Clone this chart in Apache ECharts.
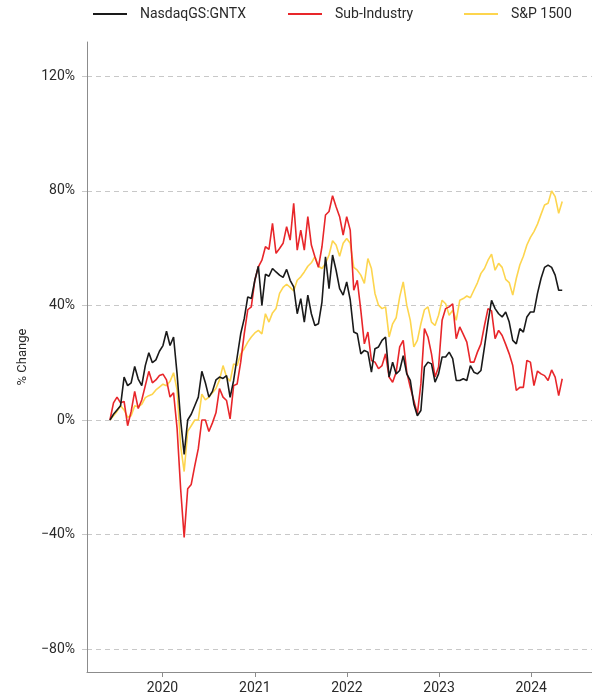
<!DOCTYPE html>
<html>
<head>
<meta charset="utf-8">
<script src="https://cdn.jsdelivr.net/npm/echarts@6/dist/echarts.min.js"></script>
<style>
html,body{margin:0;padding:0;background:#fff;}
#chart{width:592px;height:698px;}
</style>
</head>
<body>
<div id="chart"></div>
<script>
// Bi-weekly observation dates, starting 2019-06-07
const startDate = '2019-06-07';
const stepDays = 14;
const pointCount = 129;

const seriesNames = ['NasdaqGS:GNTX', 'Sub-Industry', 'S&P 1500'];

const gntx = [0,2,3.5,5,15,12,13,18.7,14.3,12,19,23.5,20,21,24,26,31,26,29,16,0,-12,0,2,5,8,17,13,8,10,14,15,14.5,
15.5,7.9,13.8,22,30.1,35.4,43,42.4,48.8,53.7,40,50.9,50.2,52.9,51.7,50.6,49.8,52.6,48.8,46.5,37.1,42.4,34.2,43.6,37.1,33,33.6,41.2,57,45.9,57.6,52.3,45.9,
43.6,48.2,42,30.7,30.1,23.1,24.3,23.7,16.7,24.9,25.5,27.8,29,15,20.2,16.1,17.3,22.5,16.1,13.8,5.6,1.5,3.3,18.5,20.2,19.6,13.2,16.1,22,22,23.7,
21.4,13.8,13.8,14.4,13.8,19,16.7,16.1,17.3,25.5,34.2,41.8,38.9,37.1,36,37.7,34.2,27.8,26.6,31.9,30.7,36,37.7,37.7,44.2,49.4,53.3,54.1,53.3,50.6,45.3,45.3];

const subIndustry = [0,6,8,6,6.5,-2,3,10,4,7,12,17,13,14,15.5,16,14,8,9.5,-3,-24,-41,-24,-22.5,-16,-10,0,0,-4,-1,2.5,11,8,
6.8,0.4,12,12.6,20.2,30.1,38.5,39.5,48.8,53.5,55.8,60.5,59.6,68.7,58.2,59.9,61.7,67.5,62.8,75.7,59.3,66.3,59.3,71,61.1,57,53.3,60.5,71.6,72.8,78.3,74.5,71,
64.6,71,66.3,45.3,48.8,38.3,26.6,30.7,20.8,20.2,17.9,19,23.1,15,13.2,16.7,25.5,27.8,16.7,11.4,6.8,2.1,12.6,31.9,29,23.1,15,18.5,34.8,38.9,39.5,
40.6,28.4,32.5,29.9,27.2,20.2,20.2,23.7,26.6,33,38.9,38.1,28.4,31.3,29.5,26.4,23.1,19,10.3,11.4,11.4,20.8,20.2,12,17.1,16.1,15.5,13.8,17.5,15,8.5,14.4];

const sp1500 = [0,1.5,3,5,3.5,1,1.5,5,4.5,5.5,7.8,8.5,9,10.5,11.5,12.5,12,13.5,16.5,10.5,-9,-18,-4,-2,0,0,9,7,8,9.5,11,14,19,
15,13.5,19.6,19,23.1,24.9,27.2,29,30.4,31.3,30.1,37.1,34.2,37.4,38.9,44.2,46.3,47.4,46.3,45.1,48.8,50,51.7,53.7,54.9,57,53.7,52.9,54.7,57.6,62.6,61.1,57.2,
61.7,63.4,61.7,53.3,52.3,50.6,47.7,56.4,52.9,44.2,40.1,38.9,39.5,29,33.6,35.7,43,48.2,40.1,34.8,25.5,27.8,33.6,38.5,39.5,34.2,33,36.6,41.8,40.6,36.6,
38.3,34.8,41.8,42.4,43.3,42.7,45.3,47.9,51.2,52.9,55.8,57.9,52.3,54.7,53.3,49.1,48,43.6,49.4,54.1,57.2,61.1,63.8,65.8,68.4,71.8,75.1,75.7,80,78,72.2,76.3];

const yTicks = [-80, -40, 0, 40, 80, 120];
const xTickYears = [2020, 2021, 2022, 2023, 2024];
const xMin = '2019-03-08';
const xMax = '2024-08-29';
const yMin = -88;
const yMax = 132;

const colors = ['#1a1a1a', '#e8262a', '#fdd54e'];

const t0 = Date.parse(startDate);
const dates = [];
for (let i = 0; i < pointCount; i++) dates.push(t0 + i * stepDays * 86400000);
const pair = arr => arr.map((v, i) => [dates[i], v]);
const yearTs = xTickYears.map(y => Date.UTC(y, 0, 1));

const chart = echarts.init(document.getElementById('chart'), null, {renderer: 'canvas'});
const font = 'Roboto';
const legendLefts = [93, 288, 464];
const legends = seriesNames.map((n, k) => ({
  top: 7,
  left: legendLefts[k],
  padding: 0,
  itemWidth: 34,
  itemHeight: 2,
  icon: 'rect',
  textStyle: {fontFamily: font, fontSize: 14, color: '#2a2a2a', padding: [0, 0, 0, 8]},
  data: [n]
}));
chart.setOption({
  animation: false,
  color: colors,
  textStyle: {fontFamily: font},
  legend: legends,
  grid: {left: 87, right: 0, top: 42, bottom: 26},
  xAxis: {
    type: 'value',
    min: Date.parse(xMin),
    max: Date.parse(xMax),
    axisLine: {onZero: false, lineStyle: {color: '#8c8c8c', width: 1}},
    axisTick: {show: true, length: 5, customValues: yearTs, lineStyle: {color: '#8c8c8c'}},
    axisLabel: {
      customValues: yearTs,
      formatter: v => String(new Date(v).getUTCFullYear()),
      fontFamily: font, fontSize: 14, color: '#2a2a2a', margin: 9
    },
    splitLine: {show: false}
  },
  yAxis: {
    type: 'value',
    min: yMin,
    max: yMax,
    name: '% Change',
    nameLocation: 'middle',
    nameGap: 58,
    nameTextStyle: {fontFamily: font, fontSize: 13, color: '#2a2a2a'},
    axisLine: {show: true, lineStyle: {color: '#8c8c8c', width: 1}},
    axisTick: {show: true, length: 5, customValues: yTicks, lineStyle: {color: '#c8c8c8'}},
    axisLabel: {
      customValues: yTicks,
      formatter: v => (v < 0 ? '\u2212' + Math.abs(v) : v) + '%',
      fontFamily: font, fontSize: 14, color: '#2a2a2a', margin: 12
    },
    splitLine: {show: true, lineStyle: {color: '#c8c8c8', type: [5, 4], width: 1}}
  },
  series: [
    {name: seriesNames[0], type: 'line', data: pair(gntx), showSymbol: false, z: 4, lineStyle: {width: 1.6, color: colors[0]}},
    {name: seriesNames[1], type: 'line', data: pair(subIndustry), showSymbol: false, z: 3, lineStyle: {width: 1.6, color: colors[1]}},
    {name: seriesNames[2], type: 'line', data: pair(sp1500), showSymbol: false, z: 2, lineStyle: {width: 1.6, color: colors[2]}}
  ]
});
</script>
</body>
</html>
